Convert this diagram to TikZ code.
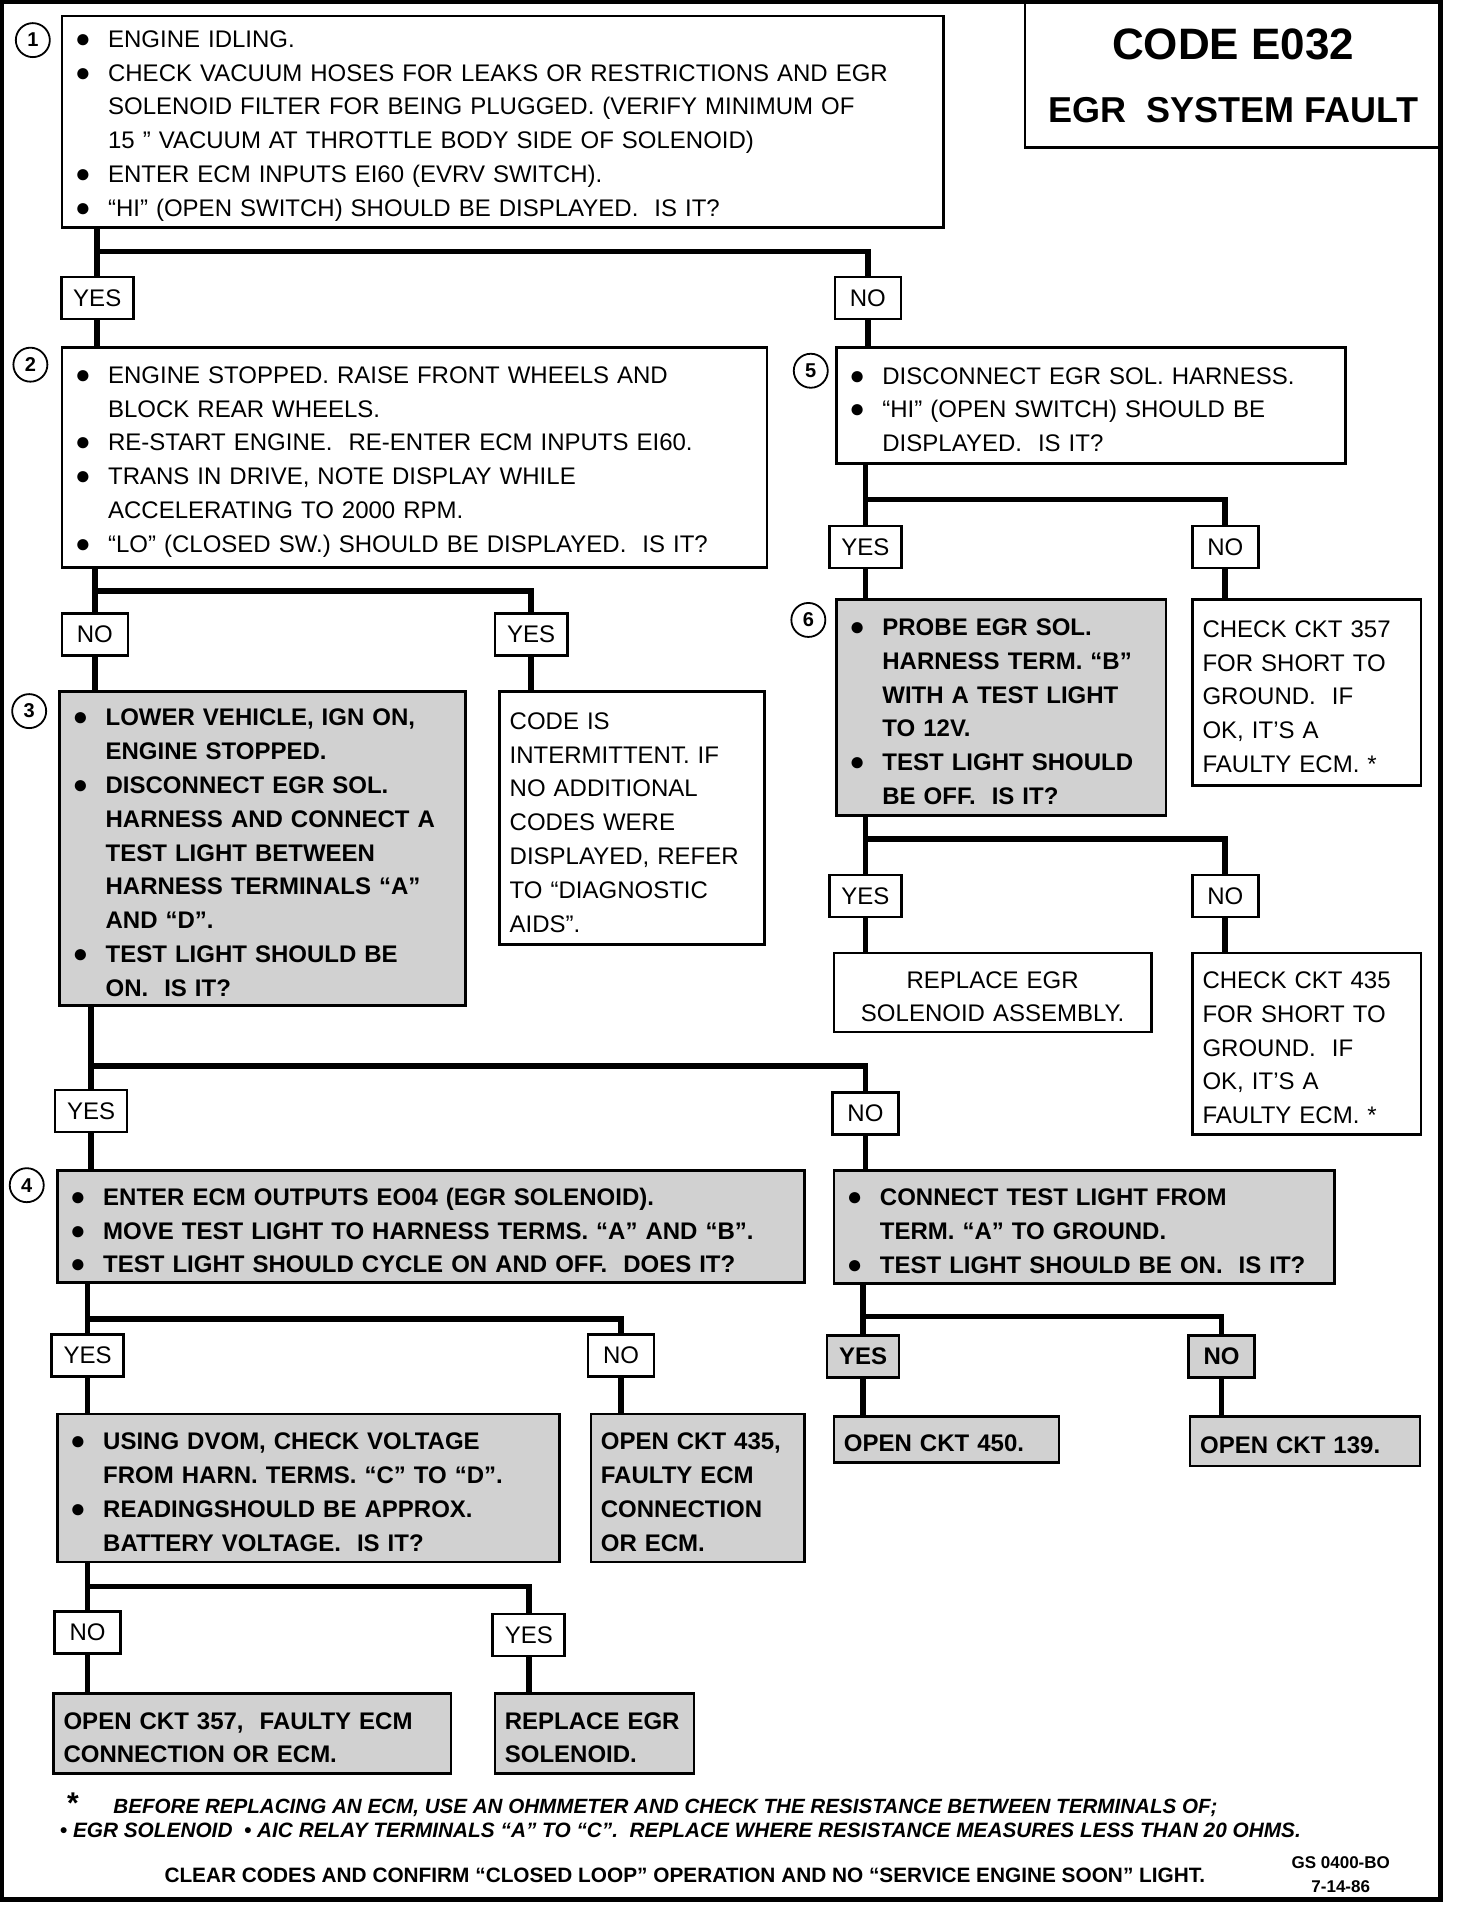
\documentclass[tikz,border=0pt]{standalone}
\usepackage{fontspec}
\setmainfont{Liberation Sans}
\usetikzlibrary{positioning,backgrounds}

\newdimen\unitpx \unitpx=0.6077pt
\newcommand\bitem[1]{\mbox{\hspace*{1.5pt}\makebox[16.5pt][l]{\fontsize{13}{12}\selectfont ●}#1}}
\newcommand\citem[1]{\mbox{\hspace*{18pt}#1}}

\begin{document}
\begin{tikzpicture}[
  x=0.6077pt, y=-0.6077pt,
  font=\fontsize{12}{16.9}\selectfont,
  box/.style={draw,line width=1.3pt,fill=white,anchor=north west,align=left,inner xsep=5pt,inner ysep=0pt,
              execute at begin node={\rule{0pt}{12.6pt}}},
  shbox/.style={box,fill=black!18,font=\fontsize{12}{16.9}\selectfont\bfseries},
  sz/.style 2 args={text width={#1*\unitpx-10pt},minimum height={#2*\unitpx}},
  ans/.style={draw,line width=1.3pt,fill=white,minimum height=21pt,minimum width=33pt,inner xsep=6pt,inner ysep=0pt},
  shans/.style={ans,fill=black!18,font=\fontsize{12}{16.9}\selectfont\bfseries},
  stepno/.style={circle,draw,line width=0.9pt,minimum size=17pt,inner sep=0pt,font=\fontsize{10}{12}\selectfont\bfseries},
  conn/.style={line width=2.8pt},
]
\useasboundingbox (0,0) rectangle (1198,1568);
% page frame
\draw[line width=2.5pt] (1.5,1.5) rectangle (1185,1563);

% title
\node[draw,line width=1.3pt,anchor=north west,minimum width=343*\unitpx,minimum height=119*\unitpx,
      align=center,inner sep=0pt,font=\fontsize{18}{31.6}\selectfont\bfseries] (title) at (842,1.5)
  {{\fontsize{22}{31.6}\selectfont CODE E032}\\EGR\ \ SYSTEM FAULT};

% step 1
\node[stepno] (n1) at (27,33) {1};
\node[box,sz={725}{174}] (s1) at (50,12) {%
  \bitem{ENGINE IDLING.}\\
  \bitem{CHECK VACUUM HOSES FOR LEAKS OR RESTRICTIONS AND EGR}\\
  \citem{SOLENOID FILTER FOR BEING PLUGGED. (VERIFY MINIMUM OF}\\
  \citem{15 '' VACUUM AT THROTTLE BODY SIDE OF SOLENOID)}\\
  \bitem{ENTER ECM INPUTS EI60 (EVRV SWITCH).}\\
  \bitem{``HI'' (OPEN SWITCH) SHOULD BE DISPLAYED.\ \ IS IT?}};
\node[ans] (yes1) at (80,245) {YES};
\node[ans] (no1) at (714,245) {NO};

% step 2
\node[stepno] (n2) at (25,300) {2};
\node[box,sz={580}{181}] (s2) at (50,285) {%
  \bitem{ENGINE STOPPED. RAISE FRONT WHEELS AND}\\
  \citem{BLOCK REAR WHEELS.}\\
  \bitem{RE-START ENGINE.\ \ RE-ENTER ECM INPUTS EI60.}\\
  \bitem{TRANS IN DRIVE, NOTE DISPLAY WHILE}\\
  \citem{ACCELERATING TO 2000 RPM.}\\
  \bitem{``LO'' (CLOSED SW.) SHOULD BE DISPLAYED.\ \ IS IT?}};
\node[ans] (no2) at (78,522) {NO};
\node[ans] (yes2) at (437,522) {YES};

% step 5
\node[stepno] (n5) at (667,305) {5};
\node[box,sz={419}{95}] (s5) at (687,285) {%
  \bitem{DISCONNECT EGR SOL. HARNESS.}\\
  \bitem{``HI'' (OPEN SWITCH) SHOULD BE}\\
  \citem{DISPLAYED.\ \ IS IT?}};
\node[ans] (yes5) at (712,450) {YES};
\node[ans] (no5) at (1008,450) {NO};

% step 3
\node[stepno] (n3) at (24,585) {3};
\node[shbox,sz={334}{258}] (s3) at (48,568) {%
  \bitem{LOWER VEHICLE, IGN ON,}\\
  \citem{ENGINE STOPPED.}\\
  \bitem{DISCONNECT EGR SOL.}\\
  \citem{HARNESS AND CONNECT A}\\
  \citem{TEST LIGHT BETWEEN}\\
  \citem{HARNESS TERMINALS ``A''}\\
  \citem{AND ``D''.}\\
  \bitem{TEST LIGHT SHOULD BE}\\
  \citem{ON.\ \ IS IT?}};
\node[box,sz={218}{208}] (int) at (410,568) {%
  CODE IS\\ INTERMITTENT. IF\\ NO ADDITIONAL\\ CODES WERE\\
  DISPLAYED, REFER\\ TO ``DIAGNOSTIC\\ AIDS''.};

% step 6
\node[stepno] (n6) at (665,510) {6};
\node[shbox,sz={271}{178}] (s6) at (687,492) {%
  \bitem{PROBE EGR SOL.}\\
  \citem{HARNESS TERM. ``B''}\\
  \citem{WITH A TEST LIGHT}\\
  \citem{TO 12V.}\\
  \bitem{TEST LIGHT SHOULD}\\
  \citem{BE OFF.\ \ IS IT?}};
\node[box,sz={188}{153}] (ckt357) at (980,492) {%
  CHECK CKT 357\\ FOR SHORT TO\\ GROUND.\ \ IF\\ OK, IT'S A\\ FAULTY ECM.\ *};
\node[ans] (yes6) at (712,737) {YES};
\node[ans] (no6) at (1008,737) {NO};
\node[box,sz={261}{65},align=center] (repl) at (685,783) {REPLACE EGR\\ SOLENOID ASSEMBLY.};
\node[box,sz={188}{149}] (ckt435) at (980,783) {%
  CHECK CKT 435\\ FOR SHORT TO\\ GROUND.\ \ IF\\ OK, IT'S A\\ FAULTY ECM.\ *};

% step 4
\node[ans] (yes3) at (75,914) {YES};
\node[ans] (no3) at (712,916) {NO};
\node[stepno] (n4) at (22,975) {4};
\node[shbox,sz={615}{92}] (s4) at (46,962) {%
  \bitem{ENTER ECM OUTPUTS EO04 (EGR SOLENOID).}\\
  \bitem{MOVE TEST LIGHT TO HARNESS TERMS. ``A'' AND ``B''.}\\
  \bitem{TEST LIGHT SHOULD CYCLE ON AND OFF.\ \ DOES IT?}};
\node[shbox,sz={412}{93}] (gnd) at (685,962) {%
  \bitem{CONNECT TEST LIGHT FROM}\\
  \citem{TERM. ``A'' TO GROUND.}\\
  \bitem{TEST LIGHT SHOULD BE ON.\ \ IS IT?}};
\node[ans] (yes4) at (72,1115) {YES};
\node[ans] (no4) at (511,1115) {NO};
\node[shans] (yesg) at (710,1116) {YES};
\node[shans] (nog) at (1005,1116) {NO};
\node[shbox,sz={185}{38}] (ckt450) at (685,1164) {OPEN CKT 450.};
\node[shbox,sz={189}{41}] (ckt139) at (978,1164) {OPEN CKT 139.};
\node[shbox,sz={413}{122}] (dvom) at (46,1162) {%
  \bitem{USING DVOM, CHECK VOLTAGE}\\
  \citem{FROM HARN. TERMS. ``C'' TO ``D''.}\\
  \bitem{READINGSHOULD BE APPROX.}\\
  \citem{BATTERY VOLTAGE.\ \ IS IT?}};
\node[shbox,sz={176}{122}] (ckt435b) at (485,1162) {%
  OPEN CKT 435,\\ FAULTY ECM\\ CONNECTION\\ OR ECM.};
\node[ans] (no7) at (72,1343) {NO};
\node[ans] (yes7) at (435,1345) {YES};
\node[shbox,sz={327}{66}] (ckt357b) at (43,1392) {OPEN CKT 357,\ \ FAULTY ECM\\ CONNECTION OR ECM.};
\node[shbox,sz={164}{66}] (replsol) at (406,1392) {REPLACE EGR\\ SOLENOID.};

% connectors
\begin{scope}[on background layer]
\coordinate (j1) at (80,207);
\draw[conn] (s1.south -| j1) -- (yes1.north);
\draw[conn] (j1) -| (no1.north);
\draw[conn] (yes1.south) -- (yes1.south |- s2.north);
\draw[conn] (no1.south) -- (no1.south |- s5.north);
\coordinate (j2) at (78,486);
\draw[conn] (s2.south -| j2) -- (no2.north);
\draw[conn] (j2) -| (yes2.north);
\draw[conn] (no2.south) -- (no2.south |- s3.north);
\draw[conn] (yes2.south) -- (yes2.south |- int.north);
\coordinate (j5) at (712,411);
\draw[conn] (s5.south -| j5) -- (yes5.north);
\draw[conn] (j5) -| (no5.north);
\draw[conn] (yes5.south) -- (yes5.south |- s6.north);
\draw[conn] (no5.south) -- (no5.south |- ckt357.north);
\coordinate (j6) at (712,690);
\draw[conn] (s6.south -| j6) -- (yes6.north);
\draw[conn] (j6) -| (no6.north);
\draw[conn] (yes6.south) -- (yes6.south |- repl.north);
\draw[conn] (no6.south) -- (no6.south |- ckt435.north);
\coordinate (j3) at (75,877);
\draw[conn] (s3.south -| j3) -- (yes3.north);
\draw[conn] (j3) -| (no3.north);
\draw[conn] (yes3.south) -- (yes3.south |- s4.north);
\draw[conn] (no3.south) -- (no3.south |- gnd.north);
\coordinate (j4) at (72,1085);
\draw[conn] (s4.south -| j4) -- (yes4.north);
\draw[conn] (j4) -| (no4.north);
\draw[conn] (yes4.south) -- (yes4.south |- dvom.north);
\draw[conn] (no4.south) -- (no4.south |- ckt435b.north);
\coordinate (jg) at (710,1083);
\draw[conn] (gnd.south -| jg) -- (yesg.north);
\draw[conn] (jg) -| (nog.north);
\draw[conn] (yesg.south) -- (yesg.south |- ckt450.north);
\draw[conn] (nog.south) -- (nog.south |- ckt139.north);
\coordinate (j7) at (72,1305);
\draw[conn] (dvom.south -| j7) -- (no7.north);
\draw[conn] (j7) -| (yes7.north);
\draw[conn] (no7.south) -- (no7.south |- ckt357b.north);
\draw[conn] (yes7.south) -- (yes7.south |- replsol.north);
\end{scope}

% footnotes
\node[inner sep=0pt,font=\fontsize{15}{15}\selectfont\bfseries] (star) at (60,1483) {*};
\node[anchor=west,inner sep=0pt,font=\fontsize{10.3}{12}\selectfont\bfseries\itshape] (fn1) at (93,1487)
  {BEFORE REPLACING AN ECM, USE AN OHMMETER AND CHECK THE RESISTANCE BETWEEN TERMINALS OF;};
\node[anchor=west,inner sep=0pt,font=\fontsize{10.4}{12}\selectfont\bfseries\itshape] (fn2) at (49,1506)
  {\textbullet\ EGR SOLENOID\ \ \textbullet\ AIC RELAY TERMINALS ``A'' TO ``C''.\ \ REPLACE WHERE RESISTANCE MEASURES LESS THAN 20 OHMS.};
\node[anchor=west,inner sep=0pt,font=\fontsize{10.4}{12}\selectfont\bfseries] (clr) at (135,1543)
  {CLEAR CODES AND CONFIRM ``CLOSED LOOP'' OPERATION AND NO ``SERVICE ENGINE SOON'' LIGHT.};
\node[align=center,inner sep=0pt,font=\fontsize{8.5}{12}\selectfont\bfseries] (gs) at (1103,1542) {GS 0400-BO\\7-14-86};
\end{tikzpicture}
\end{document}
